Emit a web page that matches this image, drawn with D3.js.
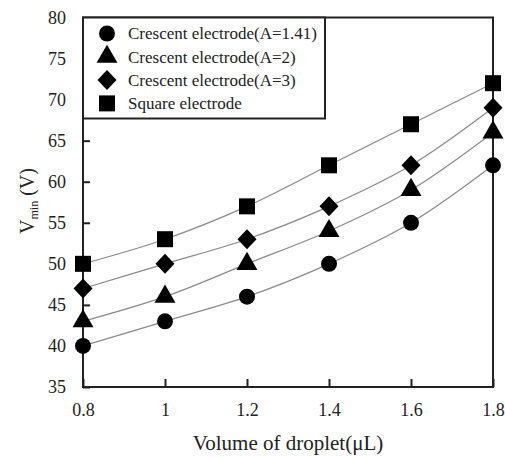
<!DOCTYPE html>
<html>
<head>
<meta charset="utf-8">
<script src="https://cdn.jsdelivr.net/npm/d3@7"></script>
<style>
  body { margin: 0; background: #fff; }
  svg text { font-family: 'Liberation Serif', 'Times New Roman', serif; fill: #222; }
</style>
</head>
<body>
<svg id="chart" width="505" height="457"></svg>
<script>
// data
const volumes = [0.8, 1, 1.2, 1.4, 1.6, 1.8]
const seriesNames = ['Crescent electrode(A=1.41)', 'Crescent electrode(A=2)', 'Crescent electrode(A=3)', 'Square electrode']
const seriesShapes = ['circle', 'triangle', 'diamond', 'square']
const vCircle = [40, 43, 46, 50, 55, 62]
const vTriangle = [43, 46, 50, 54, 59, 66]
const vDiamond = [47, 50, 53, 57, 62, 69]
const vSquare = [50, 53, 57, 62, 67, 72]
const xTicks = [0.8, 1, 1.2, 1.4, 1.6, 1.8]
const yTicks = [35, 40, 45, 50, 55, 60, 65, 70, 75, 80]

const seriesValues = [vCircle, vTriangle, vDiamond, vSquare]

const svg = d3.select('#chart')
const margin = { top: 17.5, right: 12, bottom: 70, left: 83 }
const width = 505 - margin.left - margin.right
const height = 457 - margin.top - margin.bottom

const g = svg.append('g')
  .attr('transform', 'translate(' + margin.left + ',' + margin.top + ')')

const x = d3.scaleLinear().domain([0.8, 1.8]).range([0, width])
const y = d3.scaleLinear().domain([35, 80]).range([height, 0])

// axes, ticks pointing inward
const xAxis = g.append('g')
  .attr('transform', 'translate(0,' + height + ')')
  .call(d3.axisBottom(x).tickValues(xTicks).tickSizeInner(-8).tickSizeOuter(0).tickPadding(16)
    .tickFormat(d => d3.format('')(d)))
const yAxis = g.append('g')
  .call(d3.axisLeft(y).tickValues(yTicks).tickSizeInner(-7).tickSizeOuter(0).tickPadding(17))

;[xAxis, yAxis].forEach(function (a) {
  a.select('.domain').remove()
  a.selectAll('line').attr('stroke', '#222').attr('stroke-width', 2)
  a.selectAll('text').style('font-size', '18px').attr('fill', '#333')
})

// frame
g.append('rect')
  .attr('width', width).attr('height', height)
  .attr('fill', 'none').attr('stroke', '#222').attr('stroke-width', 2)

// lines
const line = d3.line()
  .x((d, i) => x(volumes[i]))
  .y(d => y(d))
  .curve(d3.curveCatmullRom)

seriesValues.forEach(function (vals) {
  g.append('path')
    .datum(vals)
    .attr('d', line)
    .attr('fill', 'none')
    .attr('stroke', '#8a8a8a')
    .attr('stroke-width', 1.2)
})

function shapePath(shape) {
  switch (shape) {
    case 'circle': return d3.symbol(d3.symbolCircle, 200)()
    case 'triangle': return d3.symbol(d3.symbolTriangle, 190)()
    case 'diamond': return 'M0,-10L9.5,0L0,10L-9.5,0Z'
    case 'square': return d3.symbol(d3.symbolSquare, 256)()
  }
}

seriesValues.forEach(function (vals, k) {
  g.selectAll('.pt' + k)
    .data(vals)
    .enter()
    .append('path')
    .attr('class', 'pt' + k)
    .attr('d', shapePath(seriesShapes[k]))
    .attr('transform', (d, i) => 'translate(' + x(volumes[i]) + ',' + y(d) + ')')
    .attr('fill', '#000')
})

// legend box
const legend = g.append('g')
legend.append('rect')
  .attr('x', 0).attr('y', 0)
  .attr('width', 242).attr('height', 101)
  .attr('fill', '#fff').attr('stroke', '#222').attr('stroke-width', 2)

seriesNames.forEach(function (name, k) {
  const ly = 16 + k * 23.3
  legend.append('path')
    .attr('d', shapePath(seriesShapes[k]))
    .attr('transform', 'translate(24,' + ly + ')')
    .attr('fill', '#000')
  legend.append('text')
    .attr('x', 45).attr('y', ly)
    .attr('dy', '0.35em')
    .style('font-size', '17px')
    .text(name)
})

// axis titles
svg.append('text')
  .attr('x', margin.left + width / 2)
  .attr('y', 450)
  .attr('text-anchor', 'middle')
  .style('font-size', '21px')
  .text('Volume of droplet(μL)')

const yt = svg.append('text')
  .attr('transform', 'translate(34,201) rotate(-90)')
  .attr('text-anchor', 'middle')
  .style('font-size', '20px')
yt.append('tspan').text('V')
yt.append('tspan').attr('dy', 4).style('font-size', '12px').text('min')
yt.append('tspan').attr('dy', -4).text(' (V)')
</script>
</body>
</html>
